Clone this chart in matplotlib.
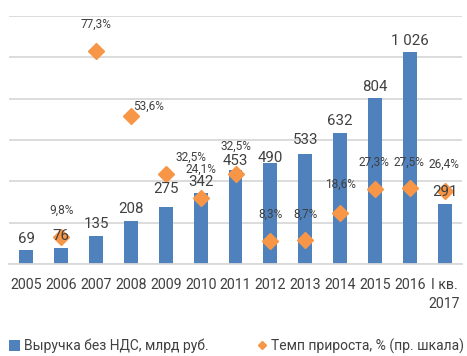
import matplotlib
matplotlib.use("Agg")
import matplotlib.pyplot as plt
from matplotlib.patches import Patch
from matplotlib.lines import Line2D

plt.rcParams['font.family'] = ['Roboto', 'DejaVu Sans']

categories = ['2005', '2006', '2007', '2008', '2009', '2010', '2011',
              '2012', '2013', '2014', '2015', '2016', 'I кв.\n2017']
revenue = [69, 76, 135, 208, 275, 342, 453, 490, 533, 632, 804, 1026, 291]
revenue_labels = ['69', '76', '135', '208', '275', '342', '453',
                  '490', '533', '632', '804', '1 026', '291']
growth = [None, 9.8, 77.3, 53.6, 32.5, 24.1, 32.5, 8.3, 8.7, 18.6, 27.3, 27.5, 26.4]

BLUE = '#4F81BD'
ORANGE = '#F79646'
TEXT = '#404040'
GRID = '#D9D9D9'

fig = plt.figure(figsize=(4.67, 3.56), dpi=100)
ax = fig.add_axes([9 / 467, 1 - 264 / 356, 453 / 467, 248 / 356])
ax2 = ax.twinx()

x = list(range(len(categories)))
ax.bar(x, revenue, width=0.4, color=BLUE, zorder=2)
ax.set_xlim(-0.5, len(categories) - 0.5)
ax.set_ylim(0, 1200)
ax.set_yticks(range(0, 1201, 200))
ax.grid(axis='y', color=GRID, linewidth=1.3, zorder=0)
ax.set_axisbelow(True)
for s in ['left', 'right', 'top']:
    ax.spines[s].set_visible(False)
ax.spines['bottom'].set_color(GRID)
ax.spines['bottom'].set_linewidth(1.3)
ax.tick_params(axis='y', left=False, labelleft=False)
ax.tick_params(axis='x', length=0, pad=10, labelsize=10.2, labelcolor=TEXT)
ax.set_xticks(x)
ax.set_xticklabels(categories, linespacing=1.45)

gx = [i for i, g in zip(x, growth) if g is not None]
gy = [g for g in growth if g is not None]
ax2.plot(gx, gy, linestyle='none', marker='D', markersize=8.2,
         color=ORANGE, zorder=3)
ax2.set_ylim(0, 90)
ax2.set_xlim(-0.5, len(categories) - 0.5)
ax2.axis('off')

# bar value labels: vertical offset above bar top, in pixels
bar_dy = [11, 12, 12, 12, 18, 11, 9, 5, 14, 12, 11, 11, 12]
for i, (v, lab) in enumerate(zip(revenue, revenue_labels)):
    ax2.annotate(lab, (i, v), xycoords=ax.transData,
                 xytext=(0, bar_dy[i] * 0.72), textcoords='offset points',
                 ha='center', va='center', fontsize=10.8, color=TEXT, zorder=5)

# growth labels: offsets from the marker, in pixels
pct_off = {1: (0, 27), 2: (0, 27), 3: (18, 10), 4: (25, 17), 5: (0, 28),
           6: (0, 28), 7: (0, 27), 8: (0, 26), 9: (0, 28), 10: (-1, 27),
           11: (-1, 26), 12: (-1, 27)}
for i, g in zip(gx, gy):
    dx, dy = pct_off[i]
    ax2.annotate(f"{g:.1f}%".replace('.', ','), (i, g),
                 xytext=(dx * 0.72, dy * 0.72), textcoords='offset points',
                 ha='center', va='center', fontsize=8.6, color=TEXT, zorder=5)

legend_kw = dict(frameon=False, fontsize=10, labelcolor=TEXT,
                 handletextpad=0.25, borderpad=0, borderaxespad=0)
fig.legend([Patch(facecolor=BLUE, edgecolor='none')],
           ['Выручка без НДС, млрд руб.'],
           loc='center left', bbox_to_anchor=(9 / 467, 1 - 346 / 356),
           handlelength=0.8, handleheight=0.8, **legend_kw)
fig.legend([Line2D([], [], linestyle='none', marker='D', markersize=4,
                   color=ORANGE)],
           ['Темп прироста, % (пр. шкала)'],
           loc='center left', bbox_to_anchor=(256 / 467, 1 - 346 / 356),
           handlelength=0.8, **legend_kw)

fig.savefig('out.png', dpi=100)
